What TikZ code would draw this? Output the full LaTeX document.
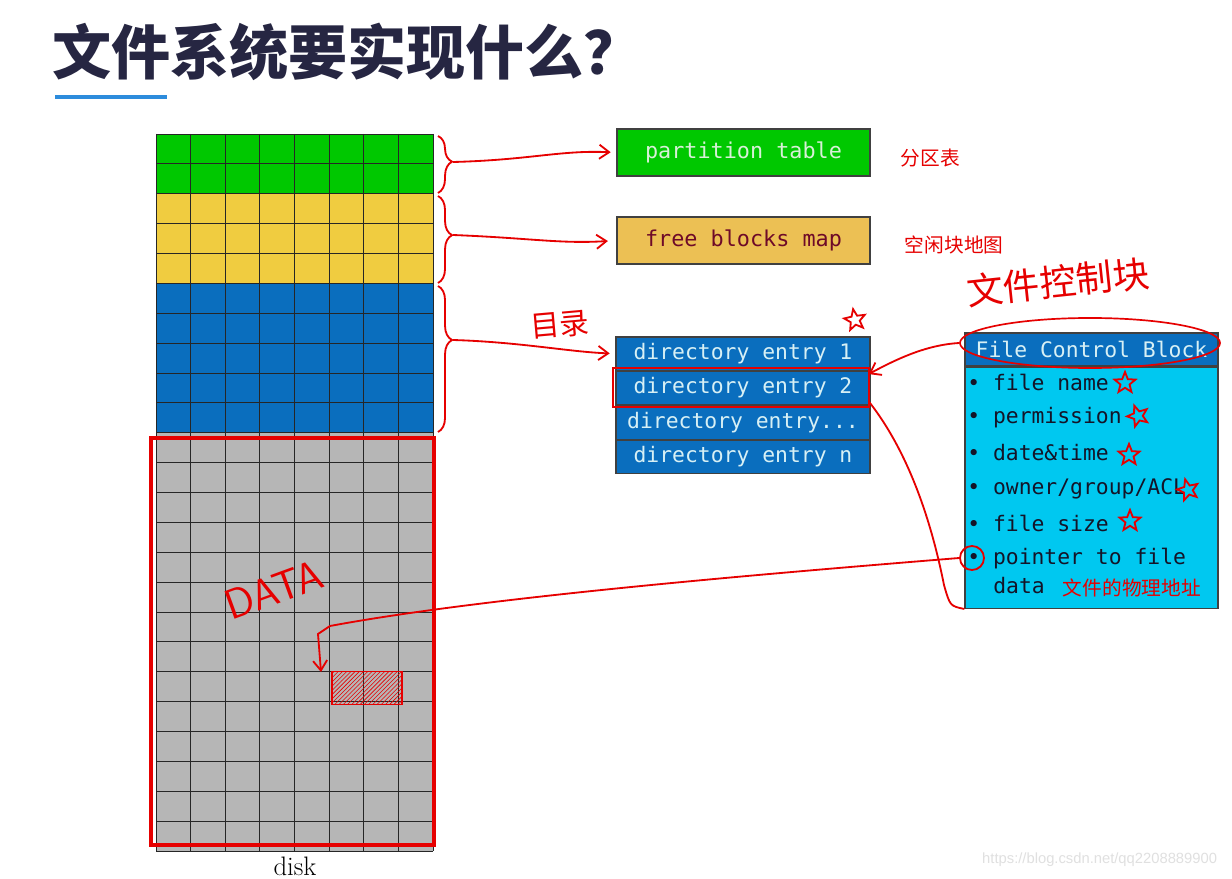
\documentclass[tikz,border=0pt]{standalone}
\usepackage{fontspec}
\setmonofont{DejaVu Sans Mono}
\newfontfamily\cjk{Noto Sans CJK SC}
\newfontfamily\websans{Liberation Sans}
\usetikzlibrary{arrows.meta, positioning, shapes.geometric, decorations.pathreplacing, patterns, calc}
\definecolor{diskgreen}{RGB}{0,200,0}
\definecolor{diskyellow}{RGB}{240,204,64}
\definecolor{diskblue}{RGB}{10,110,190}
\definecolor{diskgray}{RGB}{182,182,182}
\definecolor{mapyellow}{RGB}{236,192,84}
\definecolor{fcbcyan}{RGB}{0,200,240}
\definecolor{titlenavy}{RGB}{38,38,66}
\definecolor{linkblue}{RGB}{45,140,220}
\definecolor{penred}{RGB}{230,0,0}
\definecolor{ptext}{RGB}{215,240,215}
\definecolor{maptext}{RGB}{110,10,40}
\definecolor{entrytext}{RGB}{215,240,245}
\definecolor{itemtext}{RGB}{20,20,40}

\begin{document}
\begin{tikzpicture}[
  x=0.025cm, y=-0.025cm,
  cell/.style={draw=black!85, line width=0.6pt},
  box/.style={rectangle, draw=black!75, line width=0.9pt, minimum width=6.325cm, minimum height=1.175cm, font=\ttfamily\fontsize{15.5}{17}\selectfont},
  entry/.style={box, fill=diskblue, minimum width=6.35cm, minimum height=0.83cm, text=entrytext, font=\ttfamily\fontsize{15.2}{17}\selectfont},
  item/.style={anchor=west, inner sep=0pt, font=\ttfamily\fontsize{15.2}{17}\selectfont, text=itemtext},
  pen/.style={penred, line width=1.3pt},
  penarrow/.style={pen, -{Straight Barb[length=7pt, width=10pt]}},
  curly/.style={pen, decorate, decoration={brace, amplitude=10pt, aspect=#1}},
  note/.style={text=penred, font=\cjk\fontsize{14}{16}\selectfont},
  scrawl/.style={text=penred, font=\cjk\fontsize{26}{28}\selectfont},
  redstar/.style={star, star points=5, star point ratio=2.3, draw=penred, line width=1.3pt, minimum size=0.55cm, inner sep=0pt}
]
  \fill[white] (0,0) rectangle (1232,879);
  \useasboundingbox (0,0) rectangle (1232,879);

  % Title
  \node[anchor=west, inner sep=0pt, text=titlenavy, font=\cjk\bfseries\fontsize{42}{46}\selectfont] (title) at (52,52) {文件系统要实现什么？};
  \draw[linkblue, line width=2.2pt] (55,97) -- (167,97);

  % Disk grid
  \fill[diskgreen] (156,134) rectangle (433,194);
  \fill[diskyellow] (156,194) rectangle (433,284);
  \fill[diskblue] (156,284) rectangle (433,433);
  \fill[diskgray] (156,433) rectangle (433,851);
  \foreach \r in {0,...,24}
    \draw[cell] (156,{134+\r*29.875}) -- (433,{134+\r*29.875});
  \foreach \c in {0,...,8}
    \draw[cell] ({156+\c*34.625},134) -- ({156+\c*34.625},851);
  \node[font=\fontsize{19}{21}\selectfont] (disklabel) at (295,866) {disk};

  % Data area
  \draw[penred, line width=3pt] (151,438) rectangle (434,845);
  \node[text=penred, font=\sffamily\fontsize{30}{30}\selectfont, rotate=20] (datatag) at (274,590) {DATA};
  \node[draw=penred, line width=1.2pt, pattern=north east lines, pattern color=penred, minimum width=1.75cm, minimum height=0.825cm, inner sep=0pt] (block) at (367,688) {};
  \coordinate (blockin) at (321,672);

  % Partition table and free map
  \node[box, fill=diskgreen, text=ptext] (ptable) at (743.5,152.5) {partition table};
  \node[box, fill=mapyellow, text=maptext] (fbmap) at (743.5,240.5) {free blocks map};
  \node[note, anchor=west] (ptnote) at (896,158) {分区表};
  \node[note, anchor=west] (fbnote) at (900,245) {空闲块地图};

  % Directory entries
  \node[entry] (dir1) at (743,353.6) {directory entry 1};
  \node[entry, below=0pt of dir1] (dir2) {directory entry 2};
  \node[entry, below=0pt of dir2] (dir3) {directory entry...};
  \node[entry, below=0pt of dir3] (dir4) {directory entry n};
  \node[scrawl, font=\cjk\fontsize{21}{23}\selectfont, rotate=5] (dirscrawl) at (560,325) {目录};
  \node[redstar, rotate=10] (star0) at (855,320) {};

  % File control block
  \node[box, fill=diskblue, minimum height=0.825cm, text=entrytext, font=\ttfamily\fontsize{15.2}{17}\selectfont] (fcbhead) at (1091.5,349.5) {File Control Block};
  \node[box, fill=fcbcyan, minimum height=6.025cm, below=0pt of fcbhead] (fcbbody) {};
  \foreach \y/\t in {382/file name, 418/permission, 453/date\&time, 489/{owner/group/ACL}, 523/file size, 559/pointer to file}
    \node[item] (item\y) at (967,\y) {• \t};
  \node[item] (dataline) at (993,586) {data};
  \node[note, anchor=west] (addrnote) at (1058,588) {文件的物理地址};
  \node[scrawl, rotate=6] (fcbscrawl) at (1058,282) {文件控制块};
  \node[ellipse, draw=penred, line width=1.2pt, minimum width=6.5cm, minimum height=1.25cm] (fcbring) at (1090,343) {};
  \node[circle, draw=penred, line width=1.3pt, minimum size=0.6cm] (ptr) at (972,558) {};

  % Stars
  \node[redstar] (star1) at (1125,383) {};
  \node[redstar, rotate=20] (star2) at (1138,416) {};
  \node[redstar] (star3) at (1129,455) {};
  \node[redstar, rotate=15] (star4) at (1188,490) {};
  \node[redstar] (star5) at (1130,521) {};

  % Braces and arrows
  \draw[curly=0.45] (438,136) -- (438,193);
  \draw[curly=0.45] (438,196) -- (438,283);
  \draw[curly=0.37] (438,286) -- (438,432);
  \coordinate (gtip) at (453,162);
  \coordinate (ytip) at (453,235);
  \coordinate (btip) at (453,340);
  \draw[penarrow, shorten >=4pt] (gtip) .. controls (530,160) and (560,150) .. (ptable.west);
  \draw[penarrow, shorten >=6pt] (ytip) .. controls (530,238) and (560,244) .. (fbmap.west);
  \draw[penarrow, shorten >=4pt] (btip) .. controls (520,342) and (570,352) .. (dir1.west);

  % Entry 2 <-> FCB
  \draw[pen] ($(dir2.north west)+(-2,-3)$) rectangle ($(dir2.south east)+(-2,2)$);
  \draw[penarrow] (fcbring.west) .. controls (925,345) and (895,360) .. ($(dir2.east)+(-2,-14)$);
  \draw[pen] ($(dir2.south east)+(-2,-4)$) .. controls (915,460) and (935,540) .. (944,585) .. controls (950,606) .. (fcbbody.south west);

  % Pointer to data
  \draw[penarrow] (ptr.west) .. controls (750,575) and (480,598) .. (330,626) -- (318,634) -- (blockin);

  \node[text=black!12, font=\websans\fontsize{10.5}{12}\selectfont, anchor=east] (wm) at (1222,860) {https://blog.csdn.net/qq2208889900};
\end{tikzpicture}
\end{document}
